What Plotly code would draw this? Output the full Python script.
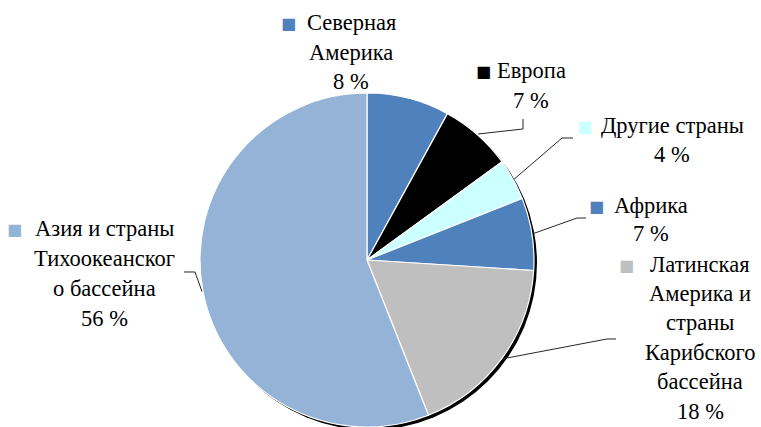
import math
import plotly.graph_objects as go

# ---- data ----
categories = ["Северная Америка", "Европа", "Другие страны", "Африка",
              "Латинская Америка и страны Карибского бассейна",
              "Азия и страны Тихоокеанского бассейна"]
shares = [8, 7, 4, 7, 18, 56]
label_lines = [
    ["Северная", "Америка"],
    ["Европа"],
    ["Другие страны"],
    ["Африка"],
    ["Латинская", "Америка и", "страны", "Карибского", "бассейна"],
    ["Азия и страны", "Тихоокеанског", "о бассейна"],
]
colors = ["#4F81BD", "#000000", "#CCFFFF", "#4F81BD", "#BFBFBF", "#95B3D7"]

# ---- layout geometry (pixels) ----
W, H = 761, 427
CX, CY, R = 367, 260, 167
FONT = "Liberation Serif"
FS = 22.5

# label placement: center x, first-line y, line spacing, marker right x
label_pos = [
    (351, 23, 29, 298),
    (531, 71, 29, 493),
    (672, 125, 30, 594),
    (651, 205, 28, 606),
    (700, 264, 29.4, 636),
    (104, 228, 30, 24),
]
# leader line elbow + end points (None = no leader)
leaders = [
    None,
    [(523, 129), (523, 119)],
    [(562, 138), (573, 138)],
    [(577, 218), (586, 218)],
    [(607, 339), (616, 339)],
    [(195, 272), (184, 272)],
]


def px(x):
    return x / W


def py(y):
    return 1 - y / H


fig = go.Figure()
fig.add_trace(go.Pie(
    labels=categories, values=shares, sort=False, direction="clockwise",
    rotation=0, textinfo="none", hoverinfo="label+percent",
    marker=dict(colors=colors, line=dict(color="white", width=1.2)),
    domain=dict(x=[px(CX - R), px(CX + R)], y=[py(CY + R), py(CY - R)]),
    showlegend=False,
))

annotations = []
shapes = []

# shadow behind the pie
shapes.append(dict(type="circle", xref="paper", yref="paper", layer="below",
                   x0=px(CX - R + 3), x1=px(CX + R + 3),
                   y0=py(CY + R + 3), y1=py(CY - R + 3),
                   fillcolor="black", line=dict(width=0)))

total = sum(shares)
cum = 0
for i, v in enumerate(shares):
    mid = (cum + v / 2) / total * 2 * math.pi
    cum += v
    cx_, fy, sp, mx = label_pos[i]
    lines = label_lines[i] + [f"{v} %"]
    for j, t in enumerate(lines):
        annotations.append(dict(
            x=px(cx_), y=py(fy + j * sp), xref="paper", yref="paper",
            text=t, showarrow=False, xanchor="center", yanchor="middle",
            font=dict(family=FONT, size=FS, color="black")))
    # legend key marker
    annotations.append(dict(
        x=px(mx), y=py(fy + 1), xref="paper", yref="paper", text="■",
        showarrow=False, xanchor="right", yanchor="middle",
        font=dict(family="DejaVu Sans", size=16, color=colors[i])))
    if leaders[i]:
        sx = CX + (R + 1) * math.sin(mid)
        sy = CY - (R + 1) * math.cos(mid)
        pts = [(sx, sy)] + leaders[i]
        path = "M " + " L ".join(f"{px(a):.5f},{py(b):.5f}" for a, b in pts)
        shapes.append(dict(type="path", xref="paper", yref="paper", path=path,
                           line=dict(color="#262626", width=1)))

fig.update_layout(
    width=W, height=H, margin=dict(l=0, r=0, t=0, b=0),
    paper_bgcolor="white", plot_bgcolor="white",
    font=dict(family=FONT),
    annotations=annotations, shapes=shapes,
)
fig.write_html("out.html", config={"displayModeBar": False},
               post_script="document.body.style.margin='0px';")
